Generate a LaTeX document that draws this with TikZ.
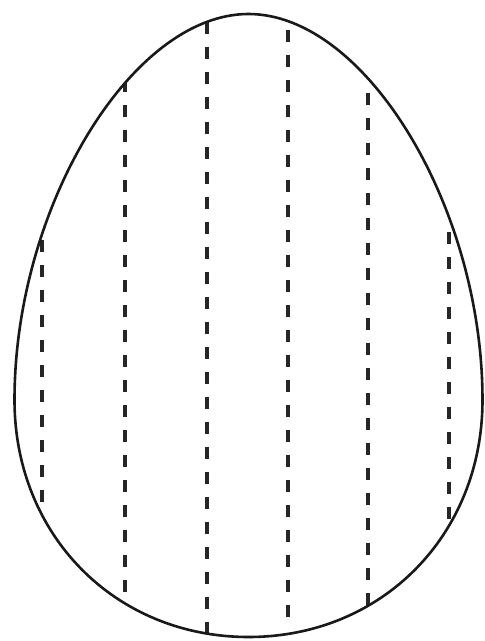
\documentclass[tikz,border=0pt]{standalone}
\begin{document}
\begin{tikzpicture}[x=1pt,y=1pt,
  eggline/.style={line width=2.6pt, draw=black!90},
  stripe/.style={line width=3.2pt, draw=black!85, dash pattern=on 12pt off 13pt}]
\useasboundingbox (0,0) rectangle (485,641);
\fill[white] (0,0) rectangle (485,641);
\def\eggpath{(14.5,241) .. controls (14.5,434) and (131.5,627) .. (248.5,627)
  .. controls (365.5,627) and (482.5,434) .. (482.5,241)
  .. controls (482.5,105.9) and (381.9,4) .. (248.5,4)
  .. controls (115.1,4) and (14.5,105.9) .. (14.5,241) -- cycle}
\begin{scope}
  \clip \eggpath;
  \coordinate (a1) at (42,401);  \coordinate (b1) at (42,136);
  \coordinate (a2) at (125,561); \coordinate (b2) at (125,44);
  \coordinate (a3) at (207,619); \coordinate (b3) at (207,4);
  \coordinate (a4) at (288,611); \coordinate (b4) at (288,18);
  \coordinate (a5) at (368,548); \coordinate (b5) at (368,31);
  \coordinate (a6) at (449,409); \coordinate (b6) at (449,118);
  \foreach \i in {1,...,6} { \draw[stripe] (a\i) -- (b\i); }
\end{scope}
\draw[eggline] \eggpath;
\end{tikzpicture}
\end{document}
